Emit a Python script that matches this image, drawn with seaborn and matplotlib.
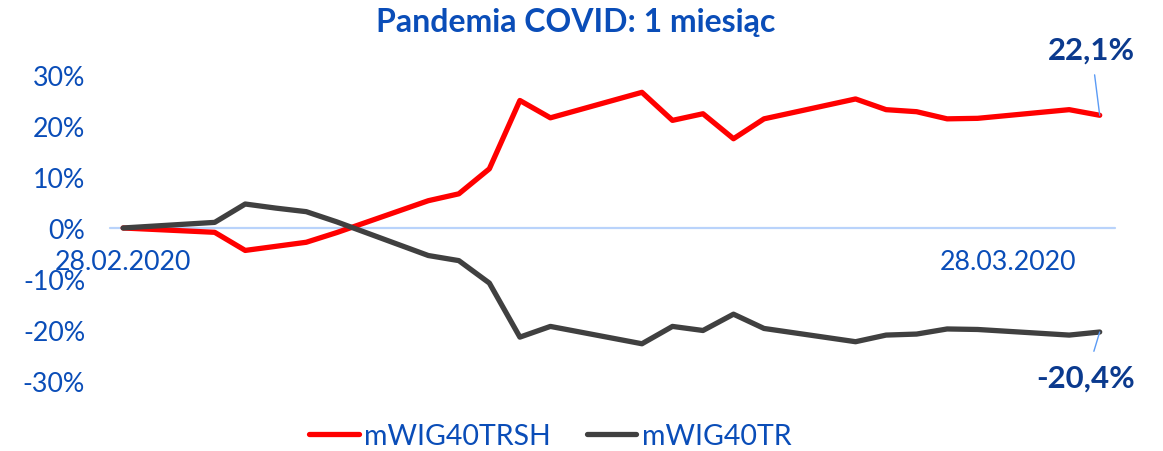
import matplotlib
matplotlib.use("Agg")
import matplotlib.pyplot as plt
import matplotlib.dates as mdates
import pandas as pd
import seaborn as sns

dates = ["2020-02-28", "2020-03-02", "2020-03-03", "2020-03-04", "2020-03-05", "2020-03-06",
         "2020-03-09", "2020-03-10", "2020-03-11", "2020-03-12", "2020-03-13",
         "2020-03-16", "2020-03-17", "2020-03-18", "2020-03-19", "2020-03-20",
         "2020-03-23", "2020-03-24", "2020-03-25", "2020-03-26", "2020-03-27",
         "2020-03-30", "2020-03-31"]
trsh = [0.0, -0.85, -4.4, -3.6, -2.8, -0.9,
        5.35, 6.7, 11.6, 25.0, 21.6,
        26.6, 21.1, 22.4, 17.5, 21.4,
        25.3, 23.2, 22.8, 21.4, 21.5,
        23.2, 22.1]
tr = [0.0, 1.1, 4.7, 3.9, 3.2, 1.2,
      -5.4, -6.4, -10.8, -21.4, -19.3,
      -22.7, -19.3, -20.1, -16.9, -19.7,
      -22.3, -21.0, -20.8, -19.8, -19.9,
      -21.0, -20.4]
series_names = ["mWIG40TRSH", "mWIG40TR"]
yticks = [-30, -20, -10, 0, 10, 20, 30]
xtick_dates = ["2020-02-28", "2020-03-28"]
title = "Pandemia COVID: 1 miesiąc"
end_labels = ["22,1%", "-20,4%"]

sns.set_theme(style="white")
plt.rcParams["font.family"] = ["Lato", "DejaVu Sans"]

BLUE = "#0A4DB8"
NAVY = "#0B3A8E"
colors = ["#FF0000", "#404040"]

df = pd.DataFrame({
    "date": pd.to_datetime(dates * 2),
    "value": [v / 100 for v in trsh] + [v / 100 for v in tr],
    "series": [series_names[0]] * len(dates) + [series_names[1]] * len(dates),
})

fig = plt.figure(figsize=(11.63, 4.52), dpi=100)
ax = fig.add_axes([0.0946, 0.1549, 0.8641, 0.677])

ax.axhline(0, color="#B9D3FB", lw=1.6, zorder=1)

sns.lineplot(data=df, x="date", y="value", hue="series", palette=colors,
             linewidth=3.8, ax=ax, zorder=3, legend=True)
for ln in ax.get_lines():
    ln.set_solid_capstyle("round")
    ln.set_solid_joinstyle("round")
    ln.set_clip_on(False)

d0 = pd.Timestamp(dates[0])
ax.set_xlim(d0 - pd.Timedelta(days=0.43), d0 + pd.Timedelta(days=32.5))
ax.set_ylim(-0.30, 0.30)

ax.set_yticks([v / 100 for v in yticks])
ax.set_yticklabels([f"{v}%" for v in yticks])
ax.set_xticks(pd.to_datetime(xtick_dates))
ax.xaxis.set_major_formatter(mdates.DateFormatter("%d.%m.%Y"))

for s in ax.spines.values():
    s.set_visible(False)
ax.spines["bottom"].set_position(("data", 0))
ax.tick_params(axis="x", length=0, pad=15, labelsize=19.3, labelcolor=BLUE)
ax.tick_params(axis="y", length=0, pad=18, labelsize=19.3, labelcolor=BLUE)
ax.set_xlabel("")
ax.set_ylabel("")

fig.text(0.495, 0.951, title, ha="center", va="center", fontsize=23,
         fontweight="bold", color=BLUE)

# end-point annotations
last = pd.Timestamp(dates[-1])
ax.annotate(end_labels[0], xy=(last, trsh[-1] / 100), xytext=(-6, 47.5),
            textcoords="offset points", ha="center", va="center",
            fontsize=22.4, fontweight="bold", color=NAVY,
            arrowprops=dict(arrowstyle="-", color="#5B9BF5", lw=1.0,
                            shrinkA=6, shrinkB=0))
ax.annotate(end_labels[1], xy=(last, tr[-1] / 100), xytext=(-10, -33),
            textcoords="offset points", ha="center", va="center",
            fontsize=22.4, fontweight="bold", color=NAVY,
            arrowprops=dict(arrowstyle="-", color="#5B9BF5", lw=1.0,
                            shrinkA=7, shrinkB=0))

handles, labels = ax.get_legend_handles_labels()
ax.get_legend().remove()
leg = fig.legend(handles, labels, loc="center", bbox_to_anchor=(0.473, 0.033),
                 ncol=2, frameon=False, fontsize=20.5, handlelength=1.75,
                 handletextpad=0.18, columnspacing=1.26)
for t in leg.get_texts():
    t.set_color(BLUE)
for h in leg.get_lines():
    h.set_linewidth(3.8)
    h.set_solid_capstyle("round")

fig.savefig("out.png", dpi=100)
